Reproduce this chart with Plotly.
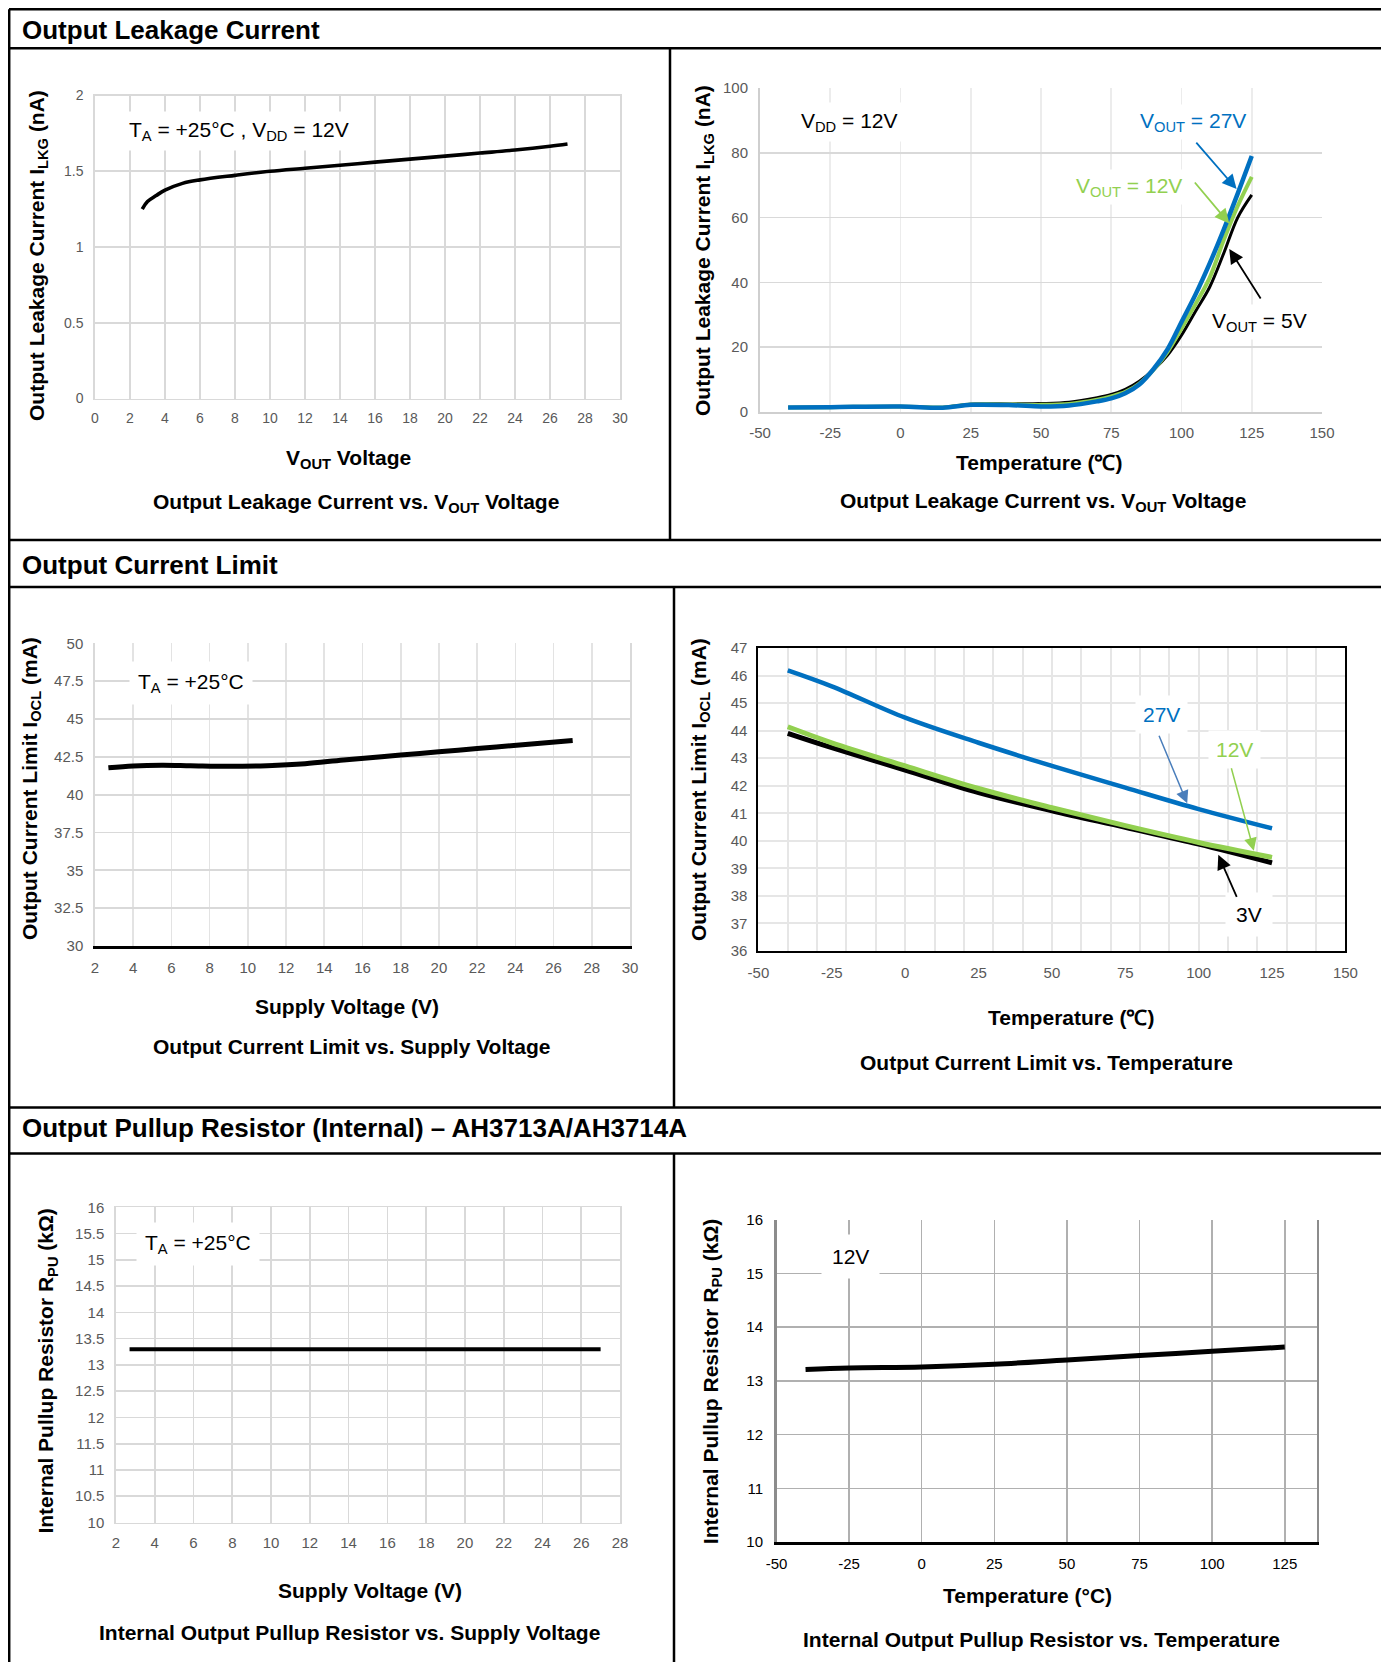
import plotly.graph_objects as go

# The page body keeps the browser's default 8px margin, so the figure is drawn
# 16px smaller than the window and every page position is shifted by 8px.
PAGE_W, PAGE_H = 1389, 1670
OFF = 8
W, H = PAGE_W - 2 * OFF, PAGE_H - 2 * OFF
FONT = "Liberation Sans, Arial, Helvetica, sans-serif"

# ---------------- data ----------------
# Chart 1: Output leakage current vs VOUT
leak_vout = [2.7, 3.0, 3.5, 4, 5, 6, 8, 10, 12, 14, 16, 18, 20, 22, 24, 26, 27]
leak_ilkg = [1.25, 1.30, 1.34, 1.375, 1.42, 1.443, 1.473, 1.50, 1.52, 1.54, 1.56, 1.58, 1.60, 1.62, 1.64, 1.665, 1.68]

# Chart 2: Output leakage current vs temperature
leak_temp = [-40, -25, 0, 15, 25, 40, 50, 60, 70, 75, 80, 85, 90, 95, 100, 105, 110, 115, 120, 125]
ilkg_27v = [1.4, 1.5, 1.7, 1.3, 2.2, 2.1, 1.7, 2.0, 3.3, 4.2, 5.8, 8.5, 13.2, 19.3, 27.8, 36.3, 45.8, 56.2, 67.4, 79.0]
ilkg_12v = [1.4, 1.5, 1.7, 1.4, 2.3, 2.3, 2.2, 2.5, 3.8, 4.8, 6.2, 8.8, 13.0, 18.5, 25.8, 33.3, 41.4, 53.0, 63.6, 72.6]
ilkg_5v = [1.4, 1.5, 1.7, 1.4, 2.4, 2.5, 2.6, 3.0, 4.4, 5.4, 7.0, 9.5, 13.0, 17.5, 23.7, 31.1, 38.5, 48.9, 60.0, 67.0]

# Chart 3: Output current limit vs supply voltage
ocl_supply = [2.7, 4, 5.5, 7, 9, 11, 13, 15, 17, 19, 21, 23, 25, 27]
ocl_iocl = [41.78, 41.9, 41.95, 41.92, 41.88, 41.92, 42.05, 42.3, 42.51, 42.73, 42.94, 43.16, 43.37, 43.58]

# Chart 4: Output current limit vs temperature
ocl_temp = [-40, -25, 0, 25, 50, 75, 100, 125]
iocl_27v = [46.19, 45.61, 44.47, 43.56, 42.72, 41.93, 41.15, 40.45]
iocl_12v = [44.14, 43.56, 42.72, 41.90, 41.20, 40.55, 39.94, 39.40]
iocl_3v = [43.90, 43.38, 42.57, 41.75, 41.09, 40.49, 39.88, 39.20]

# Chart 5: Pullup resistor vs supply voltage
rpu_supply = [2.7, 27]
rpu_vs_supply = [13.3, 13.3]

# Chart 6: Pullup resistor vs temperature
rpu_temp = [-40, -25, 0, 25, 50, 75, 100, 125]
rpu_vs_temp = [13.21, 13.24, 13.26, 13.31, 13.39, 13.47, 13.55, 13.63]

# tick values
ticks_vout = list(range(0, 31, 2))
ticks_ilkg = [0, 0.5, 1, 1.5, 2]
ticks_temp = [-50, -25, 0, 25, 50, 75, 100, 125, 150]
ticks_ilkg_t = [0, 20, 40, 60, 80, 100]
ticks_supply = list(range(2, 31, 2))
ticks_iocl = [30, 32.5, 35, 37.5, 40, 42.5, 45, 47.5, 50]
ticks_iocl_t = list(range(36, 48))
grid_temp10 = list(range(-50, 151, 10))
ticks_supply5 = list(range(2, 29, 2))
ticks_rpu = [10, 10.5, 11, 11.5, 12, 12.5, 13, 13.5, 14, 14.5, 15, 15.5, 16]
ticks_temp6 = [-50, -25, 0, 25, 50, 75, 100, 125]
ticks_rpu_t = [10, 11, 12, 13, 14, 15, 16]

BLUE = "#0070C0"
GREEN = "#92D050"
BLACK = "#000000"


# ---------------- helpers (page pixels -> paper fractions) ----------------
def px(x):
    return (x - OFF) / W


def py(y):
    return 1 - (y - OFF) / H


def dx(l, r):
    return [px(l), px(r)]


def dy(t, b):
    return [py(b), py(t)]


def axis(domain, anchor, rng, tickvals, showgrid=True, gridcolor="#d9d9d9", gridwidth=1.7,
         fcolor="#595959", fsize=15, ticklen=0, showline=False, linecolor="#d9d9d9",
         linewidth=1.7, mirror=False, showticklabels=True, **kw):
    d = dict(domain=domain, anchor=anchor, range=rng, tickmode="array", tickvals=tickvals,
             ticktext=[f"{v:g}" for v in tickvals], showgrid=showgrid, gridcolor=gridcolor,
             gridwidth=gridwidth, zeroline=False, showline=showline, linecolor=linecolor,
             linewidth=linewidth, mirror=mirror, ticks="outside", ticklen=ticklen,
             tickcolor="rgba(0,0,0,0)", showticklabels=showticklabels, automargin=False,
             tickfont=dict(family=FONT, size=fsize, color=fcolor), fixedrange=True)
    d.update(kw)
    return d


def line(x, y, color, width, xa, ya):
    return go.Scatter(x=x, y=y, mode="lines", line=dict(color=color, width=width, shape="spline"),
                      xaxis=xa, yaxis=ya, showlegend=False, hoverinfo="skip")


fig = go.Figure()

# Chart 1
fig.add_trace(line(leak_vout, leak_ilkg, BLACK, 3.6, "x", "y"))
# Chart 2
fig.add_trace(line(leak_temp, ilkg_5v, BLACK, 3, "x2", "y2"))
fig.add_trace(line(leak_temp, ilkg_12v, GREEN, 4, "x2", "y2"))
fig.add_trace(line(leak_temp, ilkg_27v, BLUE, 4.5, "x2", "y2"))
# Chart 3
fig.add_trace(line(ocl_supply, ocl_iocl, BLACK, 5, "x3", "y3"))
# Chart 4
fig.add_trace(line(ocl_temp, iocl_3v, BLACK, 5, "x4", "y4"))
fig.add_trace(line(ocl_temp, iocl_12v, GREEN, 5, "x4", "y4"))
fig.add_trace(line(ocl_temp, iocl_27v, BLUE, 4.5, "x4", "y4"))
fig.add_trace(go.Scatter(x=[], y=[], xaxis="x7", yaxis="y4", showlegend=False, hoverinfo="skip"))
# Chart 5
fig.add_trace(line(rpu_supply, rpu_vs_supply, BLACK, 4, "x5", "y5"))
# Chart 6
fig.add_trace(line(rpu_temp, rpu_vs_temp, BLACK, 5, "x6", "y6"))

layout = dict(
    width=W, height=H, margin=dict(l=0, r=0, t=0, b=0), paper_bgcolor="white",
    plot_bgcolor="white", showlegend=False, font=dict(family=FONT),
    # chart 1
    xaxis=axis(dx(95, 620), "y", [0, 30], ticks_vout, fsize=14, ticklen=6,
               showline=True, mirror=True),
    yaxis=axis(dy(95.5, 398.5), "x", [0, 2], ticks_ilkg, fsize=14, ticklen=7,
               showline=True, mirror=True),
    # chart 2
    xaxis2=axis(dx(760, 1322), "y2", [-50, 150], ticks_temp, gridcolor="#ececec", ticklen=6,
                showline=True, linecolor="#cfcfcf", linewidth=2),
    yaxis2=axis(dy(88, 412), "x2", [0, 100], ticks_ilkg_t, ticklen=7,
                showline=True, linecolor="#cfcfcf", linewidth=2),
    # chart 3
    xaxis3=axis(dx(95, 630), "y3", [2, 30], ticks_supply, gridcolor="#e3e3e3", ticklen=6,
                showline=True, linecolor=BLACK, linewidth=2.5),
    yaxis3=axis(dy(643.4, 946), "x3", [30, 50], ticks_iocl, ticklen=7,
                showline=True, mirror=True, linecolor="#d9d9d9"),
    # chart 4
    xaxis4=axis(dx(758.4, 1345.4), "y4", [-50, 150], ticks_temp, showgrid=False, ticklen=7,
                showline=True, linecolor=BLACK, linewidth=2, mirror=True),
    yaxis4=axis(dy(648, 951), "x4", [36, 47], ticks_iocl_t, gridcolor="#e6e6e6", gridwidth=2,
                ticklen=6, showline=True, linecolor=BLACK, linewidth=2, mirror=True),
    xaxis7=axis(dx(758.4, 1345.4), "y4", [-50, 150], grid_temp10, gridcolor="#e6e6e6",
                gridwidth=2, showticklabels=False, overlaying="x4"),
    # chart 5
    xaxis5=axis(dx(116, 620), "y5", [2, 28], ticks_supply5, ticklen=6,
                showline=True, mirror=True),
    yaxis5=axis(dy(1207.3, 1522.5), "x5", [10, 16], ticks_rpu, ticklen=7,
                showline=True, mirror=True),
    # chart 6
    xaxis6=axis(dx(776.5, 1316.7), "y6", [-50, 136], ticks_temp6, gridcolor="#b0b0b0",
                gridwidth=1.5, fcolor=BLACK, ticklen=6, showline=True, linecolor=BLACK,
                linewidth=2.5),
    yaxis6=axis(dy(1219.7, 1542), "x6", [10, 16], ticks_rpu_t, gridcolor="#b0b0b0",
                gridwidth=1.5, fcolor=BLACK, ticklen=8, showline=True, linecolor="#8c8c8c",
                linewidth=2.5, mirror=True),
)

# ---------------- frame lines ----------------
shapes = []


def hline(y, x0=9, x1=PAGE_W):
    shapes.append(dict(type="line", xref="paper", yref="paper", x0=px(x0), x1=px(x1),
                       y0=py(y), y1=py(y), line=dict(color="black", width=2.5)))


def vline(x, y0, y1):
    shapes.append(dict(type="line", xref="paper", yref="paper", x0=px(x), x1=px(x),
                       y0=py(y0), y1=py(y1), line=dict(color="black", width=2.5)))


hline(9.2)
vline(9.2, 9.2, PAGE_H)
hline(48.3)
vline(670, 48.3, 540)
hline(540)
hline(587)
vline(674, 587, 1107.5)
hline(1107.5)
hline(1153.5)
vline(674, 1153.5, PAGE_H)
layout["shapes"] = shapes

# ---------------- texts ----------------
ann = []


def text(t, x, y, size=21, bold=True, color="black", angle=0, xanchor="center", bg=None, pad=1):
    d = dict(text=(f"<b>{t}</b>" if bold else t), x=px(x), y=py(y), xref="paper", yref="paper",
             showarrow=False, xanchor=xanchor, yanchor="middle", textangle=angle,
             font=dict(family=FONT, size=size, color=color), borderpad=pad)
    if bg:
        d["bgcolor"] = bg
    ann.append(d)


def arrow(xa, ya, tail, head, color, width=1.8, size=1.6):
    ann.append(dict(text="", x=head[0], y=head[1], ax=tail[0], ay=tail[1], xref=xa, yref=ya,
                    axref=xa, ayref=ya, showarrow=True, arrowhead=2, arrowsize=size,
                    arrowwidth=width, arrowcolor=color, standoff=0))


# headers
text("Output Leakage Current", 19.5, 30, size=26, xanchor="left")
text("Output Current Limit", 19.5, 565, size=26, xanchor="left")
text("Output Pullup Resistor (Internal) – AH3713A/AH3714A", 19.5, 1128, size=26, xanchor="left")

# chart 1
text("Output Leakage Current I<sub>LKG</sub> (nA)", 38, 256, angle=-90)
text("V<sub>OUT</sub> Voltage", 348, 459)
text("Output Leakage Current vs. V<sub>OUT</sub> Voltage", 356, 503)
text("T<sub>A</sub> = +25°C , V<sub>DD</sub> = 12V", 238.8, 131, bold=False, bg="white", pad=6)

# chart 2
text("Output Leakage Current I<sub>LKG</sub> (nA)", 704, 250, angle=-90)
text("Temperature (℃)", 1039, 462.5)
text("Output Leakage Current vs. V<sub>OUT</sub> Voltage", 1043, 502)
text("V<sub>DD</sub> = 12V", 849.5, 121.7, bold=False, bg="white", pad=6)
text("V<sub>OUT</sub> = 27V", 1192.5, 121.7, bold=False, color=BLUE, bg="white", pad=4)
text("V<sub>OUT</sub> = 12V", 1129, 186.7, bold=False, color=GREEN, bg="white", pad=4)
text("V<sub>OUT</sub> = 5V", 1259.4, 321.7, bold=False, bg="white", pad=4)
arrow("x2", "y2", (104.8, 83.6), (119.6, 68.8), BLUE)
arrow("x2", "y2", (104.3, 71.3), (117.0, 58.2), GREEN)
arrow("x2", "y2", (128.5, 34.6), (117.0, 50.3), BLACK)

# chart 3
text("Output Current Limit I<sub>OCL</sub> (mA)", 31, 789, angle=-90)
text("Supply Voltage (V)", 347, 1006.6)
text("Output Current Limit vs. Supply Voltage", 351.5, 1046)
text("T<sub>A</sub> = +25°C", 190.8, 683, bold=False, bg="white", pad=8)

# chart 4
text("Output Current Limit I<sub>OCL</sub> (mA)", 700, 790, angle=-90)
text("Temperature (℃)", 1070.6, 1017)
text("Output Current Limit vs. Temperature", 1046, 1062)
text("27V", 1161.3, 715, bold=False, color=BLUE, bg="white", pad=7)
text("12V", 1234, 749.3, bold=False, color=GREEN, bg="white", pad=7)
text("3V", 1249.3, 915, bold=False, bg="white", pad=10)
arrow("x4", "y4", (86.3, 43.87), (96.1, 41.36), "#4a7ebb", width=1.5, size=1.7)
arrow("x4", "y4", (111.0, 42.69), (118.8, 39.64), GREEN, width=1.5, size=1.7)
arrow("x4", "y4", (113.2, 37.91), (106.7, 39.49), BLACK, width=1.8, size=1.6)

# chart 5
text("Internal Pullup Resistor R<sub>PU</sub> (kΩ)", 47, 1371.6, angle=-90)
text("Supply Voltage (V)", 369.6, 1590)
text("Internal Output Pullup Resistor vs. Supply Voltage", 349, 1632)
text("T<sub>A</sub> = +25°C", 198, 1243.6, bold=False, bg="white", pad=8)

# chart 6
text("Internal Pullup Resistor R<sub>PU</sub> (kΩ)", 711.6, 1381.6, angle=-90)
text("Temperature (°C)", 1027, 1595.7)
text("Internal Output Pullup Resistor vs. Temperature", 1041.8, 1639.3)
text("12V", 851, 1256.8, bold=False, bg="white", pad=10)

layout["annotations"] = ann
fig.update_layout(**layout)

fig.write_html("out.html", include_plotlyjs=True, full_html=True,
               config={"displayModeBar": False, "staticPlot": True})
